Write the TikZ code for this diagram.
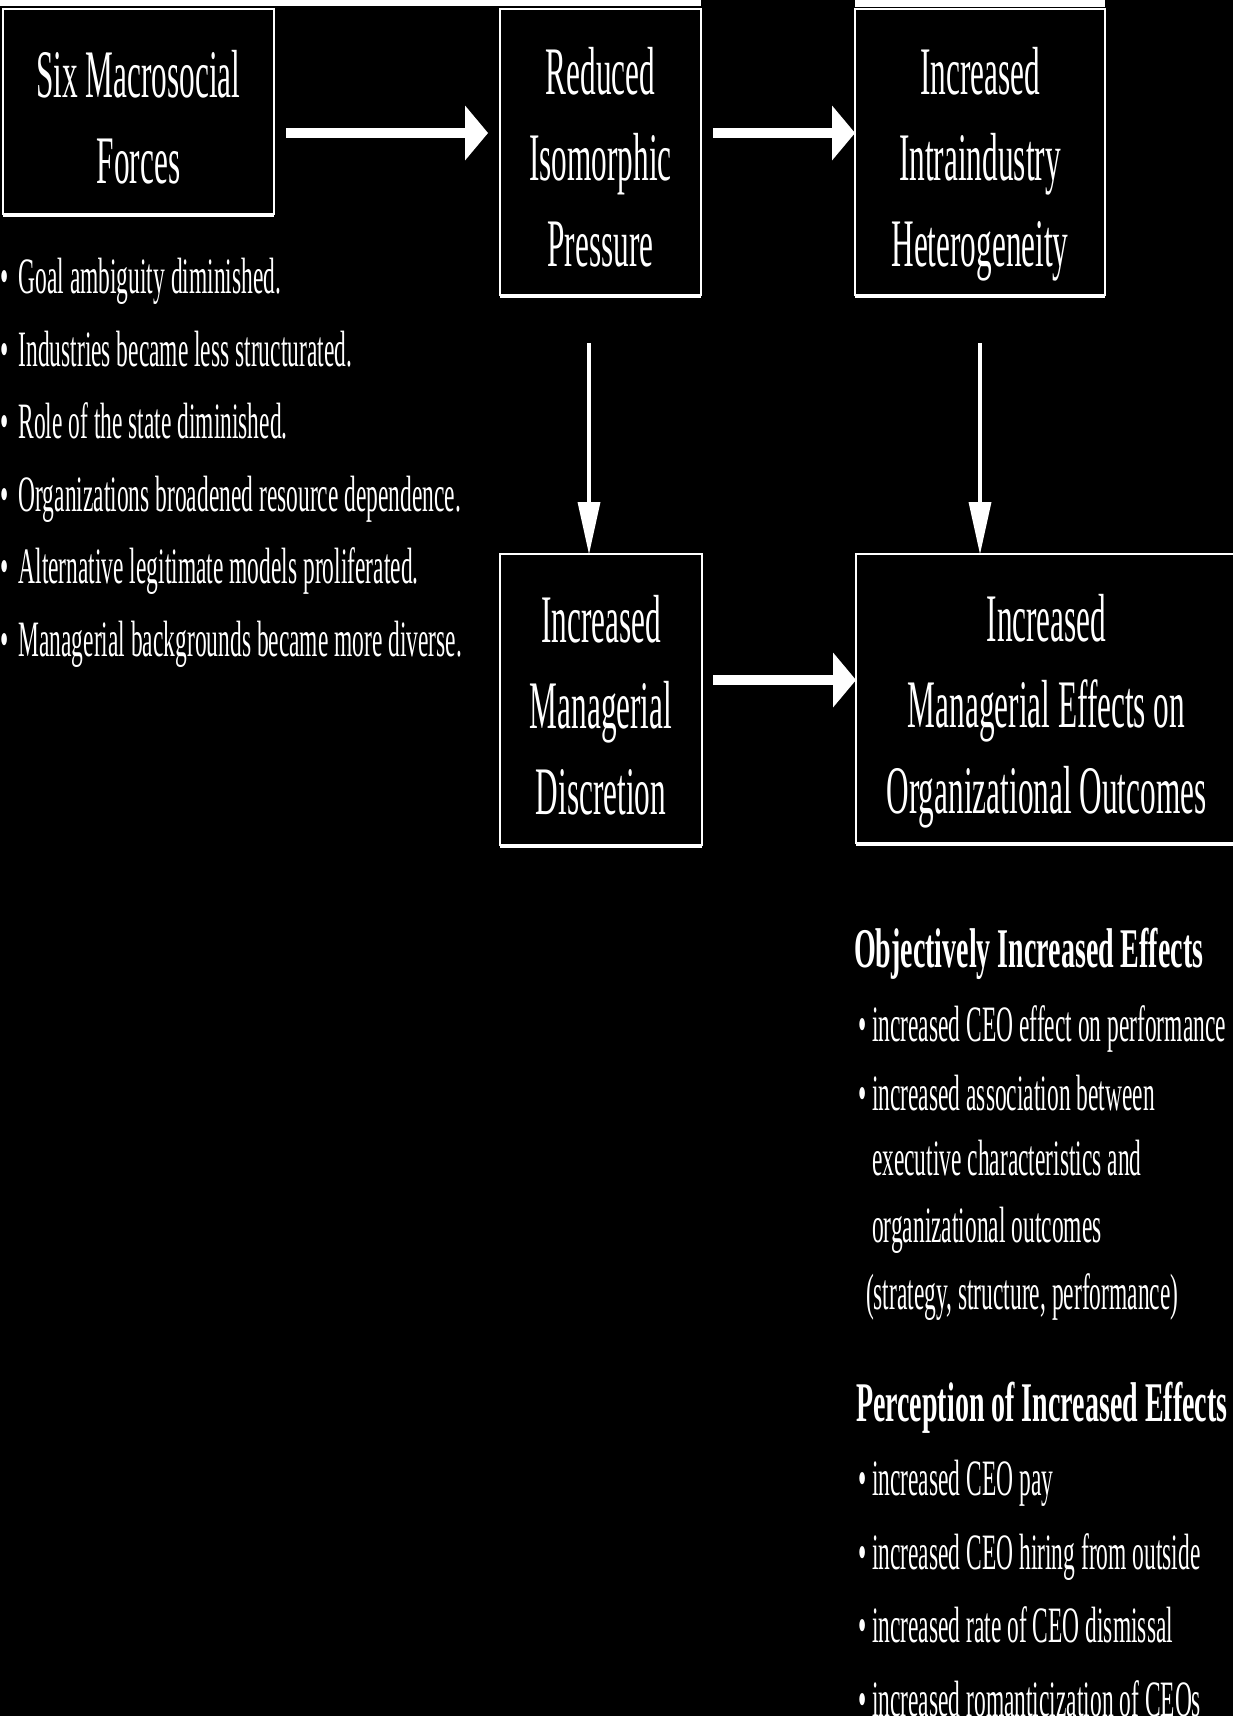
\documentclass[tikz,border=0pt]{standalone}
\usepackage{fontspec}
\setmainfont{Liberation Serif}[FakeStretch=0.46]
\newfontfamily\headfont{Liberation Serif}[FakeStretch=0.5]
\usetikzlibrary{arrows.meta,calc}
\newcommand\forcebullet{•\hspace{4.5pt} }
% struts that fix where the lines of a stage box sit
\newcommand\stagetop{\rule{0pt}{72pt}}
\newcommand\stagebottom{\rule[-15pt]{0pt}{15pt}}

\begin{document}
\begin{tikzpicture}[x=1pt,y=-1pt,
  every node/.style={text=white, inner sep=0pt, outer sep=0pt},
  stage/.style={draw=white, line width=2.5pt, align=center,
    font=\fontsize{68}{86}\selectfont},
  bottomedge/.style={white, line width=4.5pt},
  bigarrow/.style={white, line width=10pt,
    -{Triangle[length=23pt,width=55pt,line width=0pt]}},
  thinarrow/.style={white, line width=4pt,
    -{Triangle[length=52pt,width=23pt,line width=0pt]}},
  listline/.style={anchor=base west, font=\fontsize{51}{60}\selectfont},
  headline/.style={anchor=base west, font=\headfont\bfseries\fontsize{56}{66}\selectfont}
]
% page and background
\useasboundingbox (0,0) rectangle (1233,1716);
\fill[black] (0,0) rectangle (1233,1716);
\fill[white] (0,0) rectangle (701,6);
\fill[white] (855,0) rectangle (1105,7);

% the five stages
\node[stage, minimum width=271pt, minimum height=205pt] (forces) at (138.5,111.5)
  {\stagetop Six Macrosocial\\Forces\stagebottom};
\node[stage, minimum width=201pt, minimum height=286pt] (isopress) at (600.5,152)
  {\stagetop Reduced\\Isomorphic\\Pressure\stagebottom};
\node[stage, minimum width=250pt, minimum height=286pt] (hetero) at (980,152)
  {\stagetop Increased\\Intraindustry\\Heterogeneity\stagebottom};
\node[stage, minimum width=202pt, minimum height=291pt] (discretion) at (601,699.5)
  {\stagetop Increased\\Managerial\\Discretion\stagebottom};
\node[stage, minimum width=381pt, minimum height=289pt] (effects) at (1046.5,698.5)
  {\stagetop Increased\\Managerial Effects on\\Organizational Outcomes\stagebottom};

% heavier lower edges
\foreach \b in {forces,isopress,hetero,discretion,effects}
  \draw[bottomedge] ([yshift=-1pt]\b.south west) -- ([yshift=-1pt]\b.south east);

% connectors
\coordinate (rowA) at (0,133);
\coordinate (rowB) at (0,680);
\coordinate (colA) at (589,0);
\draw[bigarrow] ([xshift=12pt]forces.east |- rowA) -- ([xshift=-12pt]isopress.west |- rowA);
\draw[bigarrow] ([xshift=12pt]isopress.east |- rowA) -- (hetero.west |- rowA);
\draw[bigarrow] ([xshift=11pt]discretion.east |- rowB) -- (effects.west |- rowB);
\draw[thinarrow] ($(colA |- isopress.south)+(0,48)$) -- (colA |- discretion.north);
\draw[thinarrow] ($(hetero.south)+(0,48)$) -- (hetero.south |- effects.north);

% the six forces
\node[listline] (f1) at (0,293) {\forcebullet Goal ambiguity diminished.};
\node[listline] (f2) at (0,366) {\forcebullet Industries became less structurated.};
\node[listline] (f3) at (0,438) {\forcebullet Role of the state diminished.};
\node[listline] (f4) at (0,511) {\forcebullet Organizations broadened resource dependence.};
\node[listline] (f5) at (0,583) {\forcebullet Alternative legitimate models proliferated.};
\node[listline] (f6) at (0,656) {\forcebullet Managerial backgrounds became more diverse.};

% objective effects
\node[headline] (objh) at (854,967) {Objectively Increased Effects};
\node[listline] (o1) at (858,1041) {• increased CEO effect on performance};
\node[listline] (o2) at (858,1110) {• increased association between};
\node[listline] (o3) at (872,1175) {executive characteristics and};
\node[listline] (o4) at (872,1242) {organizational outcomes};
\node[listline] (o5) at (866,1309) {(strategy, structure, performance)};

% perceived effects
\node[headline] (perh) at (856,1421) {Perception of Increased Effects};
\node[listline] (p1) at (858,1495) {• increased CEO pay};
\node[listline] (p2) at (858,1569) {• increased CEO hiring from outside};
\node[listline] (p3) at (858,1642) {• increased rate of CEO dismissal};
\node[listline] (p4) at (858,1716) {• increased romanticization of CEOs};
\end{tikzpicture}
\end{document}
